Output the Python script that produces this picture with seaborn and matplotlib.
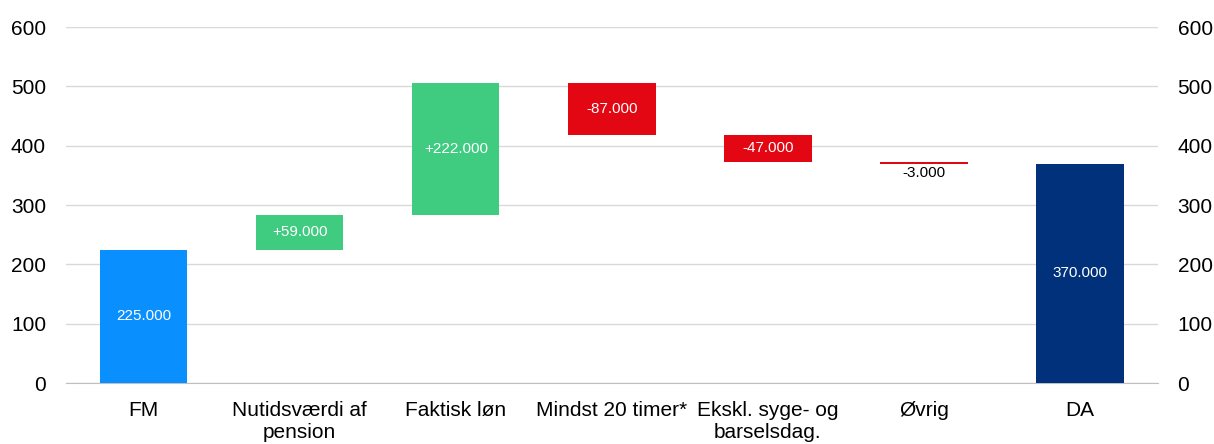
import numpy as np
import pandas as pd
import matplotlib
matplotlib.use('Agg')
import matplotlib.pyplot as plt
import seaborn as sns

# Data for the waterfall
kategorier = ['FM', 'Nutidsværdi af\npension', 'Faktisk løn', 'Mindst 20 timer*',
              'Ekskl. syge- og\nbarselsdag.', 'Øvrig', 'DA']
start = 225
aendringer = [59, 222, -87, -47, -3]
slut = 370
etiketter = ['225.000', '+59.000', '+222.000', '-87.000', '-47.000', '-3.000', '370.000']
farver = ['#0A8FFF', '#3FCB80', '#3FCB80', '#E30613', '#E30613', '#E30613', '#00317A']

# Compute bottoms and heights
niveau = start
bunde = [0]
hoejder = [start]
for a in aendringer:
    if a >= 0:
        bunde.append(niveau)
        hoejder.append(a)
    else:
        bunde.append(niveau + a)
        hoejder.append(-a)
    niveau += a
bunde.append(0)
hoejder.append(slut)

df = pd.DataFrame({'Kategori': kategorier, 'Hoejde': hoejder, 'Bund': bunde})

sns.set_style('white')
plt.rcParams['font.family'] = ['Liberation Sans', 'DejaVu Sans']

fig = plt.figure(figsize=(12.14, 4.44), dpi=100)
ax = fig.add_axes([0.054, 0.137, 0.9, 0.802])

sns.barplot(data=df, x='Kategori', y='Hoejde', ax=ax, width=0.56,
            color='#cccccc', saturation=1, zorder=3)
for p, b, h, c in zip(ax.patches, bunde, hoejder, farver):
    p.set_y(b)
    p.set_height(h)
    p.set_facecolor(c)
    p.set_edgecolor('none')

# Labels
for i, (b, h, t) in enumerate(zip(bunde, hoejder, etiketter)):
    if h < 10:
        ax.text(i, b - 3, t, ha='center', va='top', fontsize=11, color='black', zorder=4)
    else:
        ax.text(i, b + h / 2, t, ha='center', va='center', fontsize=11, color='white', zorder=4)

ax.set_ylim(0, 600)
ax.set_xlim(-0.5, len(kategorier) - 0.5)
ax.set_yticks(np.arange(0, 601, 100))
ax.yaxis.grid(True, color='#D9D9D9', linewidth=1, zorder=0)
ax.set_axisbelow(True)
ax.set_xlabel('')
ax.set_ylabel('')

for s in ['top', 'right', 'left']:
    ax.spines[s].set_visible(False)
ax.spines['bottom'].set_color('#BFBFBF')

ax.tick_params(axis='y', length=0, labelsize=15, pad=14, left=False, right=False,
               labelleft=True, labelright=True, labelcolor='black')
ax.tick_params(axis='x', which='major', length=0, labelsize=15, pad=13, labelcolor='black')
ax.set_xticks(np.arange(-0.5, len(kategorier)), minor=True)
ax.tick_params(axis='x', which='minor', length=5, color='#BFBFBF', width=1)
for lbl in ax.get_xticklabels():
    lbl.set_linespacing(1.2)

fig.savefig('out.png', dpi=100)
